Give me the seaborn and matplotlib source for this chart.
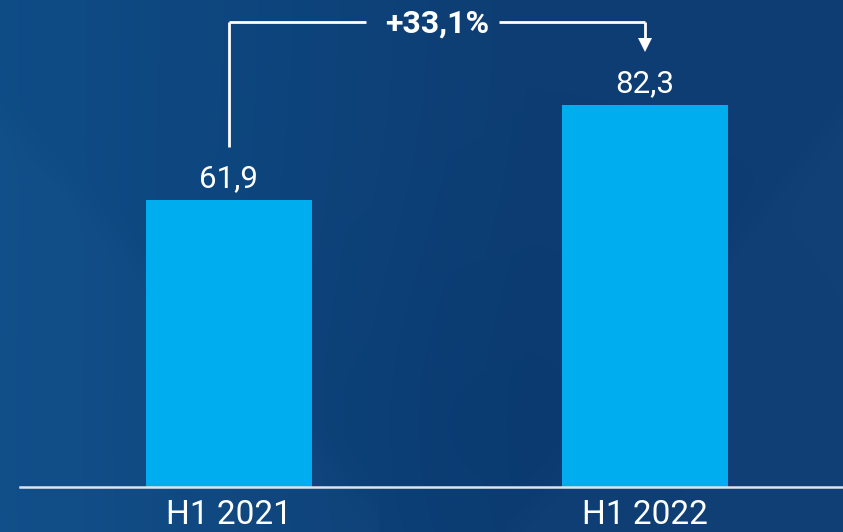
import numpy as np
import matplotlib
matplotlib.use("Agg")
import matplotlib.pyplot as plt
import seaborn as sns

categories = ["H1 2021", "H1 2022"]
values = [61.9, 82.3]
value_labels = ["61,9", "82,3"]
change_label = "+33,1%"

sns.set_theme(style="white")
plt.rcParams["font.family"] = ["Roboto", "DejaVu Sans"]

W, H = 843, 532
fig = plt.figure(figsize=(W / 100, H / 100), dpi=100)

# background gradient
bg = fig.add_axes([0, 0, 1, 1], zorder=-10)
xs = np.linspace(0, 1, W)
ys = np.linspace(0, 1, H)
X, Y = np.meshgrid(xs, ys)
left = np.array([0.058, 0.300, 0.530])
right = np.array([0.052, 0.240, 0.450])
t = np.clip(X * 1.6, 0, 1)[..., None]
img = left * (1 - t) + right * t
# darker centre
d = np.exp(-(((X - 0.58) / 0.30) ** 2 + ((Y - 0.80) / 0.40) ** 2))[..., None]
img = img - 0.010 * d
# lighter side wedges (below diagonals)
yl = 115 / H + (X * W) / 340 * (355 / H)
wl = 1 / (1 + np.exp(-(Y - yl) * 60)) * (X < 0.45)
yr = 110 / H + ((W - X * W) / 283) * (360 / H)
wr = 1 / (1 + np.exp(-(Y - yr) * 60)) * (X > 0.6)
img = img + 0.012 * (wl + wr)[..., None]
bg.imshow(np.clip(img, 0, 1), aspect="auto", extent=[0, 1, 1, 0])
bg.axis("off")

ax = fig.add_axes([20 / W, 45 / H, (W - 20) / W, 487 / H])
ax.set_facecolor("none")
sns.barplot(x=categories, y=values, color="#00adee", saturation=1, width=0.4,
            linewidth=0, edgecolor="none", ax=ax)
ax.set_xlim(-0.502, 1.476)
ax.set_ylim(0, 104.9)
for s in ["top", "left", "right"]:
    ax.spines[s].set_visible(False)
ax.spines["bottom"].set_color("#dde4ee")
ax.spines["bottom"].set_linewidth(1.8)
ax.set_yticks([])
ax.set_xlabel("")
ax.set_ylabel("")
ax.tick_params(axis="x", length=0, pad=9, labelsize=24, labelcolor="white")

# value labels
for i, (v, lab) in enumerate(zip(values, value_labels)):
    ax.text(i, v + 2.8, lab, ha="center", va="baseline", color="white", fontsize=22.5)

# change bracket
off = 11.4
top = max(values) + 17.9
lw = 2.0
ax.plot([0, 0], [values[0] + off, top], color="white", lw=lw, solid_capstyle="butt")
ax.plot([0, 0.5 - 0.17], [top, top], color="white", lw=lw, solid_capstyle="butt")
ax.plot([0.5 + 0.15, 1], [top, top], color="white", lw=lw, solid_capstyle="butt")
ax.plot([1, 1], [top, values[1] + off + 2.0], color="white", lw=lw, solid_capstyle="butt")
ax.plot([1], [values[1] + off + 1.5], marker="v", markersize=10.5, color="white", markeredgewidth=0)
ax.text(0.5, top - 2.4, change_label, ha="center", va="baseline", color="white",
        fontsize=23, fontweight="bold")

fig.savefig("out.png", dpi=100)
